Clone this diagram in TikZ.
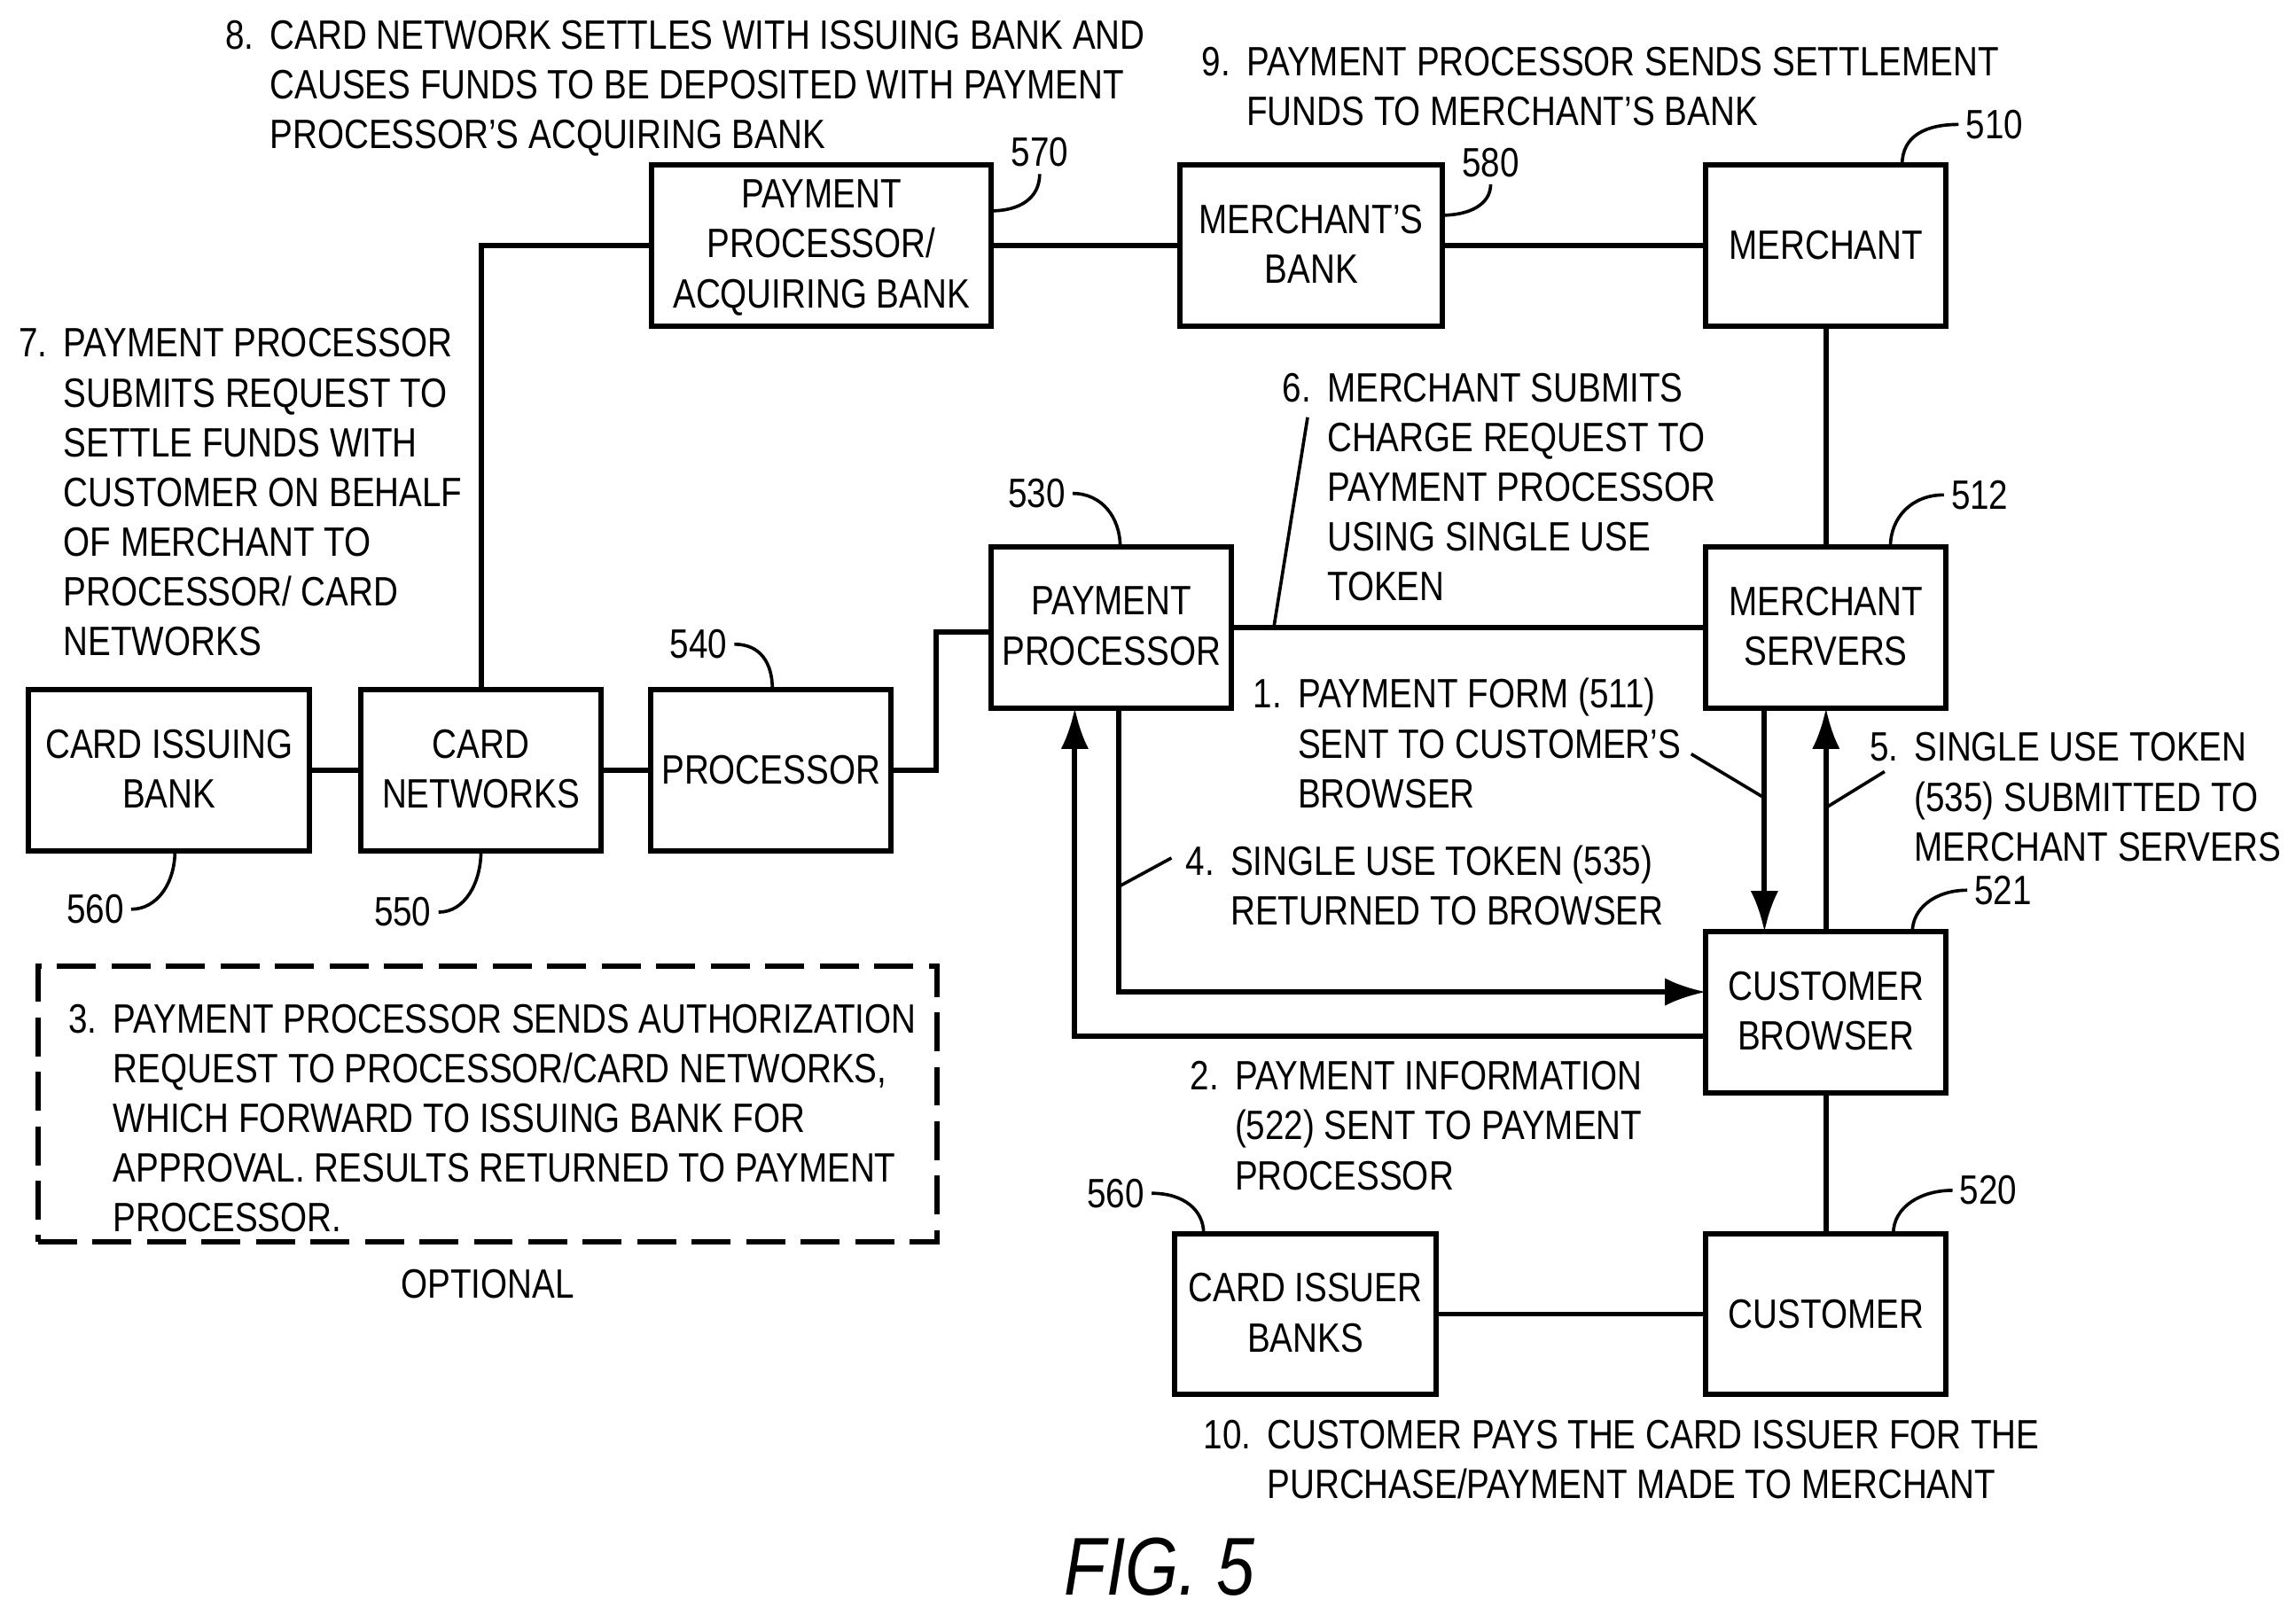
\documentclass[tikz,border=0pt]{standalone}
\usepackage{fontspec}
\setmainfont[FakeStretch=0.835]{Liberation Sans}
\usetikzlibrary{arrows.meta,calc,positioning}
\newcommand{\stepno}[1]{\llap{#1\hspace{5.5pt}}}

\begin{document}
\begin{tikzpicture}[x=0.5pt,y=-0.5pt,font=\fontsize{14}{17}\selectfont,
  block/.style={minimum height=55pt,minimum width=82pt,outer sep=0pt,inner sep=0pt,text depth=1pt,draw,rectangle,line width=1.8pt,align=center},
  note/.style={anchor=north west,inner sep=0pt,align=left},
  tag/.style={inner sep=0pt,outer sep=2.5pt},
  link/.style={line width=1.8pt},
  arrow/.style={link,-{Latex[length=14pt,width=9.5pt]}},
  lead/.style={line width=1.1pt}]

        \useasboundingbox (0,0) rectangle (1568,1103);

        \node (cib) [block,minimum width=96pt] at (115.5,526) {CARD ISSUING\\BANK};
        \node (cn) [block,right = 17.5pt of cib] {CARD\\NETWORKS};
        \node (proc) [block,text depth=0pt,right = 17pt of cn] {PROCESSOR};

        \node (ppab) [block,minimum width=116pt] at (561,167.5) {PAYMENT\\PROCESSOR/\\ACQUIRING BANK};
        \node (mb) [block,minimum width=89.5pt,right = 64.5pt of ppab] {MERCHANT’S\\BANK};
        \node (m) [block,text depth=0pt,right = 90pt of mb] {MERCHANT};
        \node (ms) [block,below = 75.5pt of m] {MERCHANT\\SERVERS};
        \node (cb) [block,below = 76.5pt of ms] {CUSTOMER\\BROWSER};
        \node (c) [block,text depth=0pt,below = 48pt of cb] {CUSTOMER};
        \node (cib2) [block,minimum width=89.5pt,left = 92pt of c] {CARD ISSUER\\BANKS};
        \node (pp) [block,left = 162pt of ms] {PAYMENT\\PROCESSOR};

        \draw[link] (cib) -- (cn);
        \draw[link] (cn) -- (proc);
        \draw[link] (proc.east) -- ++(31,0) |- ([yshift=-1.5pt]pp.west);
        \draw[link] (cn.north) |- (ppab.west);
        \draw[link] (ppab) -- (mb);
        \draw[link] (mb) -- (m);
        \draw[link] (m) -- (ms);
        \draw[link] (pp) -- (ms);
        \draw[link] (cb) -- (c);
        \draw[link] (c) -- (cib2);

        \draw[arrow] ([xshift=-21pt]ms.south) -- ([xshift=-21pt]cb.north);
        \draw[arrow] (cb.north) -- (ms.south);
        \draw[arrow] ([xshift=2.5pt]pp.south) |- ([yshift=7pt]cb.west);
        \draw[arrow] ([yshift=-8pt]cb.west) -| ([xshift=-12.5pt]pp.south);

        \node (optbox) [draw,dash pattern=on 13.3pt off 5.3pt,line width=1.8pt,minimum width=307pt,minimum height=94pt,inner sep=0pt,outer sep=0pt] at (333,754) {};
        \node (optlabel) at (333,877) {OPTIONAL};

        \node (step8) [note] at (184,13.5) {\stepno{8.}CARD NETWORK SETTLES WITH ISSUING BANK AND\\CAUSES FUNDS TO BE DEPOSITED WITH PAYMENT\\PROCESSOR’S ACQUIRING BANK};
        \node (step9) [note] at (851,32) {\stepno{9.}PAYMENT PROCESSOR SENDS SETTLEMENT\\FUNDS TO MERCHANT’S BANK};
        \node (step7) [note] at (43,224) {\stepno{7.}PAYMENT PROCESSOR\\SUBMITS REQUEST TO\\SETTLE FUNDS WITH\\CUSTOMER ON BEHALF\\OF MERCHANT TO\\PROCESSOR/ CARD\\NETWORKS};
        \node (step6) [note] at (906,254.5) {\stepno{6.}MERCHANT SUBMITS\\CHARGE REQUEST TO\\PAYMENT PROCESSOR\\USING SINGLE USE\\TOKEN};
        \node (step1) [note] at (886,463) {\stepno{1.}PAYMENT FORM (511)\\SENT TO CUSTOMER’S\\BROWSER};
        \node (step5) [note] at (1307,500) {\stepno{5.}SINGLE USE TOKEN\\(535) SUBMITTED TO\\MERCHANT SERVERS};
        \node (step4) [note] at (840,577) {\stepno{4.}SINGLE USE TOKEN (535)\\RETURNED TO BROWSER};
        \node (step2) [note] at (843,724.5) {\stepno{2.}PAYMENT INFORMATION\\(522) SENT TO PAYMENT\\PROCESSOR};
        \node (step3) [note] at (77,685.5) {\stepno{3.}PAYMENT PROCESSOR SENDS AUTHORIZATION\\REQUEST TO PROCESSOR/CARD NETWORKS,\\WHICH FORWARD TO ISSUING BANK FOR\\APPROVAL. RESULTS RETURNED TO PAYMENT\\PROCESSOR.};
        \node (step10) [note] at (865,969.5) {\stepno{10.}CUSTOMER PAYS THE CARD ISSUER FOR THE\\PURCHASE/PAYMENT MADE TO MERCHANT};

        \node (figlabel) at (792,1070) {\fontsize{28}{32}\selectfont\itshape FIG. 5};

        \coordinate (end6) at (893,285);
        \coordinate (foot6) at (870,428);
        \coordinate (end1) at (1155,515);
        \coordinate (foot1) at (1205,545);
        \coordinate (end5) at (1287,527);
        \coordinate (foot5) at (1248,551);
        \coordinate (end4) at (800,586);
        \coordinate (foot4) at (765,605);
        \draw[lead] (end6) -- (foot6);
        \draw[lead] (end1) -- (foot1);
        \draw[lead] (end5) -- (foot5);
        \draw[lead] (end4) -- (foot4);

        \node (t570) [tag] at (710,104) {570};
        \node (t580) [tag] at (1018,111) {580};
        \node (t510) [tag] at (1362,85) {510};
        \node (t512) [tag] at (1352,338) {512};
        \node (t530) [tag] at (708,337) {530};
        \node (t540) [tag] at (477,440) {540};
        \node (t560) [tag] at (762,815) {560};
        \node (t520) [tag] at (1358,813) {520};
        \node (t521) [tag] at (1368,608) {521};
        \node (t560b) [tag] at (65,621) {560};
        \node (t550) [tag] at (275,623) {550};

        \draw[lead] (t570.south) .. controls +(0,16) and +(20,0) .. ([yshift=11.75pt]ppab.east);
        \draw[lead] (t580.south) .. controls +(0,14) and +(18,0) .. ([yshift=10.25pt]mb.east);
        \draw[lead] (t510.west) .. controls +(-22,0) and +(0,-20) .. ([xshift=26pt]m.north);
        \draw[lead] (t512.west) .. controls +(-22,0) and +(0,-20) .. ([xshift=22pt]ms.north);
        \draw[lead] (t530.east) .. controls +(20,0) and +(0,-20) .. ([xshift=3pt]pp.north);
        \draw[lead] (t540.east) .. controls +(18,0) and +(0,-18) .. ([xshift=0.5pt]proc.north);
        \draw[lead] (t560.east) .. controls +(22,0) and +(0,-16) .. ([xshift=-34.75pt]cib2.north);
        \draw[lead] (t520.west) .. controls +(-22,0) and +(0,-18) .. ([xshift=23pt]c.north);
        \draw[lead] (t521.west) .. controls +(-22,0) and +(0,-16) .. ([xshift=29.5pt]cb.north);
        \draw[lead] (t560b.east) .. controls +(18,0) and +(0,22) .. ([xshift=2pt]cib.south);
        \draw[lead] (t550.east) .. controls +(18,0) and +(0,22) .. (cn.south);
      \end{tikzpicture}
\end{document}
